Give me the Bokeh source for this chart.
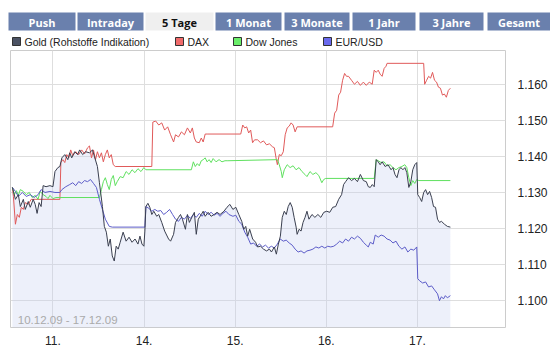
from bokeh.plotting import figure
from bokeh.models import Range1d, FixedTicker, NumeralTickFormatter, Label
from bokeh.layouts import column
from bokeh.embed import file_html
from bokeh.resources import INLINE
from bokeh.core.properties import value

# ---------------- data ----------------
tabs = ["Push", "Intraday", "5 Tage", "1 Monat", "3 Monate", "1 Jahr", "3 Jahre", "Gesamt"]
active_tab = "5 Tage"
series_names = ["Gold (Rohstoffe Indikation)", "DAX", "Dow Jones", "EUR/USD"]
volume_name = "Gold Volumen"
date_span = "10.12.09 - 17.12.09"
day_ticks = [0, 1, 2, 3, 4]
day_labels = ["11.", "14.", "15.", "16.", "17."]
price_ticks = [1.10, 1.11, 1.12, 1.13, 1.14, 1.15, 1.16]

# time in trading days (0 = 11.12.09 open), values on the common indexed scale
gold_t = [-0.445, -0.412, -0.380, -0.358, -0.325, -0.304, -0.271, -0.249, -0.217, -0.195, -0.174, -0.152,
          -0.130, -0.108, -0.076, -0.033, 0.000, 0.022, 0.054, 0.076, 0.098, 0.130, 0.163, 0.184, 0.206,
          0.239, 0.271, 0.293, 0.326, 0.358, 0.401, 0.434, 0.456, 0.488, 0.510, 0.543, 0.564, 0.586, 0.608,
          0.629, 0.651, 0.673, 0.694, 0.716, 0.738, 0.770, 0.803, 0.835, 0.868, 0.901, 0.933, 0.955, 0.977,
          0.998, 1.009, 1.020, 1.042, 1.063, 1.085, 1.107, 1.139, 1.161, 1.194, 1.226, 1.269, 1.291, 1.324,
          1.345, 1.378, 1.400, 1.421, 1.454, 1.476, 1.497, 1.530, 1.552, 1.573, 1.595, 1.628, 1.649, 1.671,
          1.703, 1.736, 1.769, 1.801, 1.834, 1.877, 1.910, 1.942, 1.975, 2.007, 2.040, 2.072, 2.094, 2.116,
          2.137, 2.159, 2.192, 2.224, 2.246, 2.279, 2.311, 2.344, 2.376, 2.398, 2.430, 2.452, 2.474, 2.496,
          2.517, 2.539, 2.561, 2.582, 2.604, 2.626, 2.647, 2.669, 2.680, 2.702, 2.723, 2.745, 2.767, 2.788,
          2.810, 2.843, 2.875, 2.908, 2.940, 2.973, 3.005, 3.038, 3.071, 3.103, 3.136, 3.168, 3.190, 3.212,
          3.244, 3.277, 3.309, 3.342, 3.374, 3.407, 3.439, 3.461, 3.483, 3.505, 3.526, 3.548, 3.570, 3.591,
          3.613, 3.646, 3.678, 3.711, 3.732, 3.754, 3.776, 3.798, 3.819, 3.841, 3.863, 3.884, 3.906, 3.928,
          3.949, 3.971, 3.993, 4.004, 4.025, 4.047, 4.069, 4.090, 4.112, 4.134, 4.156, 4.177, 4.199, 4.221,
          4.242, 4.264, 4.297, 4.329, 4.362]
gold_v = [1.1314, 1.1281, 1.1294, 1.1261, 1.1281, 1.1253, 1.1275, 1.1259, 1.1281, 1.1267, 1.1242, 1.1272,
          1.1261, 1.1319, 1.1316, 1.1319, 1.1316, 1.1358, 1.1369, 1.1372, 1.1396, 1.1405, 1.1391, 1.1410, 1.1396,
          1.1413, 1.1405, 1.1418, 1.1405, 1.1413, 1.1410, 1.1418, 1.1399, 1.1372, 1.1327, 1.1261, 1.1206, 1.1190, 1.1151,
          1.1171, 1.1124, 1.1110, 1.1151, 1.1143, 1.1162, 1.1190, 1.1165, 1.1176, 1.1162, 1.1171, 1.1157, 1.1179, 1.1157,
          1.1151, 1.1193, 1.1261, 1.1270, 1.1259, 1.1239, 1.1248, 1.1234, 1.1239, 1.1217, 1.1193, 1.1171, 1.1165, 1.1184,
          1.1217, 1.1231, 1.1239, 1.1226, 1.1198, 1.1239, 1.1217, 1.1234, 1.1245, 1.1184, 1.1226, 1.1239, 1.1248, 1.1234,
          1.1245, 1.1234, 1.1239, 1.1245, 1.1239, 1.1248, 1.1259, 1.1267, 1.1253, 1.1259, 1.1239, 1.1220, 1.1198, 1.1206,
          1.1179, 1.1198, 1.1171, 1.1162, 1.1149, 1.1151, 1.1143, 1.1138, 1.1143, 1.1135, 1.1149, 1.1129, 1.1157, 1.1179,
          1.1231, 1.1248, 1.1239, 1.1261, 1.1272, 1.1259, 1.1231, 1.1204, 1.1184, 1.1198, 1.1193, 1.1217, 1.1231, 1.1248,
          1.1226, 1.1239, 1.1231, 1.1239, 1.1231, 1.1245, 1.1248, 1.1245, 1.1259, 1.1261, 1.1281, 1.1294, 1.1322, 1.1330,
          1.1341, 1.1333, 1.1339, 1.1330, 1.1350, 1.1333, 1.1330, 1.1316, 1.1314, 1.1322, 1.1316, 1.1391, 1.1385, 1.1377,
          1.1385, 1.1372, 1.1377, 1.1363, 1.1369, 1.1350, 1.1341, 1.1363, 1.1369, 1.1363, 1.1369, 1.1355, 1.1314, 1.1330,
          1.1363, 1.1377, 1.1383, 1.1294, 1.1286, 1.1275, 1.1300, 1.1308, 1.1294, 1.1303, 1.1286, 1.1261, 1.1259, 1.1226,
          1.1217, 1.1220, 1.1212, 1.1206, 1.1204]

eur_t = [-0.445, -0.412, -0.380, -0.336, -0.293, -0.249, -0.206, -0.163, -0.130, -0.087, -0.033, 0.022, 0.076,
         0.098, 0.141, 0.184, 0.217, 0.250, 0.282, 0.315, 0.347, 0.380, 0.412, 0.445, 0.477, 0.510, 0.543, 0.575,
         0.618, 0.651, 1.009, 1.020, 1.052, 1.085, 1.118, 1.150, 1.183, 1.215, 1.248, 1.280, 1.313, 1.345, 1.378,
         1.410, 1.443, 1.476, 1.508, 1.541, 1.573, 1.606, 1.638, 1.671, 1.703, 1.736, 1.769, 1.801, 1.834, 1.866,
         1.899, 1.931, 1.975, 2.007, 2.040, 2.072, 2.105, 2.137, 2.170, 2.202, 2.235, 2.268, 2.300, 2.333, 2.365,
         2.398, 2.430, 2.463, 2.495, 2.528, 2.560, 2.593, 2.626, 2.658, 2.691, 2.723, 2.756, 2.788, 2.821, 2.853,
         2.886, 2.918, 2.951, 2.984, 3.016, 3.049, 3.082, 3.114, 3.147, 3.179, 3.212, 3.244, 3.277, 3.309, 3.342,
         3.374, 3.407, 3.439, 3.461, 3.483, 3.515, 3.537, 3.570, 3.602, 3.634, 3.667, 3.700, 3.732, 3.765, 3.797,
         3.830, 3.863, 3.895, 3.928, 3.960, 3.993, 4.004, 4.025, 4.058, 4.090, 4.123, 4.156, 4.188, 4.221, 4.242,
         4.264, 4.286, 4.307, 4.329, 4.362]
eur_v = [1.1314, 1.1303, 1.1289, 1.1300, 1.1289, 1.1294, 1.1286, 1.1294, 1.1308, 1.1300, 1.1303, 1.1300, 1.1300,
         1.1308, 1.1316, 1.1322, 1.1327, 1.1319, 1.1330, 1.1325, 1.1333, 1.1330, 1.1336, 1.1325, 1.1314, 1.1281, 1.1253, 1.1226,
         1.1206, 1.1204, 1.1204, 1.1261, 1.1256, 1.1248, 1.1253, 1.1248, 1.1250, 1.1239, 1.1245, 1.1253, 1.1239, 1.1226, 1.1220,
         1.1231, 1.1226, 1.1237, 1.1228, 1.1239, 1.1231, 1.1242, 1.1234, 1.1248, 1.1239, 1.1245, 1.1237, 1.1242, 1.1234, 1.1242,
         1.1248, 1.1239, 1.1234, 1.1237, 1.1220, 1.1212, 1.1190, 1.1176, 1.1157, 1.1160, 1.1151, 1.1157, 1.1149, 1.1154, 1.1146,
         1.1151, 1.1146, 1.1157, 1.1171, 1.1165, 1.1168, 1.1160, 1.1154, 1.1143, 1.1135, 1.1138, 1.1132, 1.1138, 1.1140, 1.1143,
         1.1149, 1.1146, 1.1151, 1.1146, 1.1151, 1.1149, 1.1151, 1.1157, 1.1165, 1.1160, 1.1171, 1.1165, 1.1176, 1.1171, 1.1179,
         1.1173, 1.1162, 1.1154, 1.1149, 1.1162, 1.1157, 1.1182, 1.1176, 1.1182, 1.1179, 1.1171, 1.1168, 1.1160, 1.1165, 1.1151,
         1.1143, 1.1149, 1.1135, 1.1143, 1.1140, 1.1149, 1.1061, 1.1055, 1.1049, 1.1052, 1.1038, 1.1041, 1.1030, 1.1019, 1.1000,
         1.1011, 1.1005, 1.1014, 1.1008, 1.1014]

dax_t = [-0.445, -0.434, -0.412, -0.391, -0.369, -0.347, -0.325, -0.304, -0.271, -0.239, -0.195, 0.076, 0.087,
         0.108, 0.130, 0.152, 0.174, 0.195, 0.217, 0.250, 0.282, 0.315, 0.347, 0.380, 0.401, 0.423, 0.445, 0.467,
         0.488, 0.510, 0.532, 0.553, 0.575, 0.597, 0.618, 0.640, 0.662, 0.684, 1.085, 1.096, 1.128, 1.161, 1.194,
         1.226, 1.259, 1.291, 1.324, 1.345, 1.378, 1.410, 1.443, 1.476, 1.508, 1.530, 1.552, 1.573, 1.606, 1.628,
         1.649, 1.671, 1.692, 2.061, 2.083, 2.105, 2.126, 2.148, 2.170, 2.191, 2.213, 2.246, 2.278, 2.311, 2.344,
         2.376, 2.408, 2.430, 2.452, 2.463, 2.484, 2.506, 2.528, 2.549, 2.571, 2.593, 2.614, 2.636, 2.658, 2.680,
         3.070, 3.092, 3.114, 3.136, 3.157, 3.179, 3.201, 3.222, 3.244, 3.277, 3.309, 3.342, 3.374, 3.407, 3.439,
         3.472, 3.504, 3.526, 3.548, 3.570, 3.591, 3.613, 3.635, 3.656, 3.667, 4.069, 4.080, 4.101, 4.123, 4.145,
         4.166, 4.188, 4.210, 4.231, 4.253, 4.275, 4.296, 4.318, 4.340, 4.362]
dax_v = [1.1314, 1.1289, 1.1212, 1.1239, 1.1231, 1.1259, 1.1253, 1.1272, 1.1267, 1.1281, 1.1281, 1.1281, 1.1383,
         1.1391, 1.1383, 1.1405, 1.1396, 1.1418, 1.1402, 1.1413, 1.1405, 1.1418, 1.1407, 1.1424, 1.1429, 1.1396, 1.1418, 1.1391,
         1.1413, 1.1396, 1.1410, 1.1385, 1.1405, 1.1418, 1.1396, 1.1405, 1.1377, 1.1372, 1.1372, 1.1495, 1.1498, 1.1487, 1.1493,
         1.1473, 1.1482, 1.1460, 1.1440, 1.1460, 1.1454, 1.1468, 1.1460, 1.1479, 1.1465, 1.1479, 1.1451, 1.1440, 1.1438, 1.1451,
         1.1440, 1.1462, 1.1462, 1.1462, 1.1487, 1.1479, 1.1482, 1.1465, 1.1473, 1.1438, 1.1446, 1.1446, 1.1438, 1.1443, 1.1432,
         1.1435, 1.1427, 1.1424, 1.1391, 1.1377, 1.1405, 1.1402, 1.1413, 1.1460, 1.1479, 1.1484, 1.1493, 1.1487, 1.1468, 1.1482,
         1.1482, 1.1520, 1.1528, 1.1570, 1.1578, 1.1611, 1.1630, 1.1622, 1.1622, 1.1611, 1.1600, 1.1608, 1.1597, 1.1606, 1.1597,
         1.1606, 1.1600, 1.1639, 1.1633, 1.1639, 1.1628, 1.1622, 1.1644, 1.1650, 1.1658, 1.1658, 1.1600, 1.1611, 1.1622, 1.1617,
         1.1633, 1.1611, 1.1606, 1.1592, 1.1589, 1.1570, 1.1573, 1.1564, 1.1583, 1.1589]

dow_t = [-0.445, -0.423, -0.401, -0.380, -0.358, -0.325, -0.293, -0.260, -0.228, -0.195, -0.163, -0.141, -0.108,
         -0.076, -0.054, -0.033, 0.000, 0.033, 0.510, 0.532, 0.553, 0.575, 0.597, 0.618, 0.640, 0.662, 0.684,
         0.705, 0.738, 0.770, 0.803, 0.835, 0.868, 0.900, 0.933, 0.966, 0.998, 1.020, 1.519, 1.541, 1.562, 1.584,
         1.606, 1.628, 1.649, 1.671, 1.692, 1.714, 1.736, 1.758, 1.790, 1.823, 1.855, 1.888, 1.920, 2.463, 2.484,
         2.506, 2.517, 2.539, 2.571, 2.603, 2.636, 2.668, 2.701, 2.733, 2.766, 2.788, 2.821, 2.853, 2.886, 2.918,
         2.951, 2.972, 2.994, 3.526, 3.548, 3.570, 3.602, 3.634, 3.667, 3.700, 3.732, 3.765, 3.797, 3.830, 3.862,
         3.884, 3.906, 3.928, 3.949, 3.971, 3.993, 4.015, 4.362]
dow_v = [1.1314, 1.1294, 1.1305, 1.1292, 1.1308, 1.1303, 1.1294, 1.1300, 1.1286, 1.1292, 1.1281, 1.1303, 1.1294,
         1.1289, 1.1283, 1.1292, 1.1283, 1.1286, 1.1286, 1.1308, 1.1330, 1.1341, 1.1322, 1.1308, 1.1336, 1.1347, 1.1319,
         1.1330, 1.1344, 1.1341, 1.1358, 1.1350, 1.1363, 1.1355, 1.1366, 1.1358, 1.1369, 1.1363, 1.1363, 1.1385, 1.1372, 1.1380,
         1.1374, 1.1388, 1.1391, 1.1396, 1.1385, 1.1391, 1.1383, 1.1394, 1.1385, 1.1391, 1.1385, 1.1388, 1.1388, 1.1391, 1.1377,
         1.1358, 1.1341, 1.1363, 1.1377, 1.1369, 1.1374, 1.1363, 1.1369, 1.1358, 1.1350, 1.1344, 1.1358, 1.1350, 1.1355, 1.1347,
         1.1327, 1.1336, 1.1339, 1.1339, 1.1391, 1.1388, 1.1383, 1.1385, 1.1374, 1.1377, 1.1369, 1.1363, 1.1369, 1.1372, 1.1377,
         1.1369, 1.1341, 1.1319, 1.1333, 1.1325, 1.1336, 1.1333, 1.1333]

# ---------------- styles ----------------
W = 550
FONT = "Liberation Sans"
TAB_FONT = "Open Sans"
TAB_BG = "#6a80ad"
TAB_ACTIVE_BG = "#efefef"
GRID = "#dedede"
C_GOLD = "#3a3f4f"
C_DAX = "#e05a5a"
C_DOW = "#5fe05f"
C_EUR = "#5c5cc8"
LEG_FILL = ["#4b5263", "#f06a6a", "#6aee6a", "#6a6aee"]

X_START, X_END = -0.466, 4.967
Y_START, Y_END = 1.09257, 1.16936


def bare(fig):
    fig.grid.visible = False
    fig.outline_line_color = None
    fig.background_fill_color = "white"
    fig.border_fill_color = "white"
    fig.frame_align = False


# ---------------- header (tabs + legend) ----------------
head = figure(width=W, height=50, x_range=Range1d(0, W), y_range=Range1d(50, 0),
              min_border=0, toolbar_location=None, output_backend="svg",
              x_axis_location=None, y_axis_location=None)
bare(head)

tab_left = [8, 77, 145, 215, 284, 352, 419, 487]
tab_right = [75, 143, 213, 281, 349, 415, 483, 550]
tab_cols = [TAB_ACTIVE_BG if t == active_tab else TAB_BG for t in tabs]
txt_cols = ["#111111" if t == active_tab else "white" for t in tabs]
head.quad(left=tab_left, right=tab_right, top=[12] * len(tabs), bottom=[30] * len(tabs),
          fill_color=tab_cols, line_color=None)
head.text(x=[(a + b) / 2 for a, b in zip(tab_left, tab_right)], y=[21.5] * len(tabs), text=tabs,
          text_font=value(TAB_FONT), text_font_style="bold", text_font_size="11px",
          text_align="center", text_baseline="middle", text_color=txt_cols)

leg_x = [12, 175, 233, 323]
head.quad(left=leg_x, right=[x + 8 for x in leg_x], top=[37] * 4, bottom=[45] * 4,
          fill_color=LEG_FILL, line_color="#333333", line_width=1)
head.text(x=[x + 12 for x in leg_x], y=[41.5] * 4, text=series_names,
          text_font=value(FONT), text_font_size="10.5px", text_align="left",
          text_baseline="middle", text_color="#222222")

# ---------------- main chart ----------------
p = figure(width=W, height=297, x_range=Range1d(X_START, X_END), y_range=Range1d(Y_START, Y_END),
           y_axis_location="right", toolbar_location=None, output_backend="svg",
           min_border_left=10, min_border_right=39, min_border_top=0, min_border_bottom=18)
p.frame_align = False
p.outline_line_color = "#cccccc"
p.background_fill_color = "white"
p.border_fill_color = "white"

p.xaxis.ticker = FixedTicker(ticks=day_ticks)
p.xaxis.major_label_overrides = {t: l for t, l in zip(day_ticks, day_labels)}
p.yaxis.ticker = FixedTicker(ticks=price_ticks)
p.yaxis.formatter = NumeralTickFormatter(format="0.000")
for ax in (p.xaxis, p.yaxis):
    ax.axis_line_color = None
    ax.major_tick_line_color = None
    ax.minor_tick_line_color = None
    ax.major_label_text_font = FONT
    ax.major_label_text_font_size = "12px"
    ax.major_label_text_color = "#222222"
p.xaxis.major_label_standoff = 2
p.yaxis.major_label_standoff = 6
p.xgrid.grid_line_color = GRID
p.ygrid.grid_line_color = GRID

p.varea(x=gold_t, y1=[Y_START] * len(gold_t), y2=gold_v, fill_color=(196, 204, 238), fill_alpha=0.3)
p.line(dax_t, dax_v, line_color=C_DAX, line_width=1)
p.line(dow_t, dow_v, line_color=C_DOW, line_width=1)
p.line(eur_t, eur_v, line_color=C_EUR, line_width=1)
p.line(gold_t, gold_v, line_color=C_GOLD, line_width=1)

p.add_layout(Label(x=X_START + 0.08, y=Y_START + 0.0005, text=date_span, text_font=FONT,
                   text_font_size="11.5px", text_color="#aaaaaa", text_baseline="bottom"))

# ---------------- cut-off volume legend ----------------
foot = figure(width=W, height=7, x_range=Range1d(0, W), y_range=Range1d(354, 347),
              min_border=0, toolbar_location=None, output_backend="svg",
              x_axis_location=None, y_axis_location=None)
bare(foot)
foot.quad(left=[12], right=[20], top=[350], bottom=[358], fill_color="#6aee6a", line_color="#333333")
foot.text(x=[24], y=[348.5], text=[volume_name], text_font=value(FONT), text_font_size="10.5px",
          text_baseline="top", text_color="#222222")

layout = column(head, p, foot, spacing=0)
open("out.html", "w").write(file_html(layout, INLINE))
